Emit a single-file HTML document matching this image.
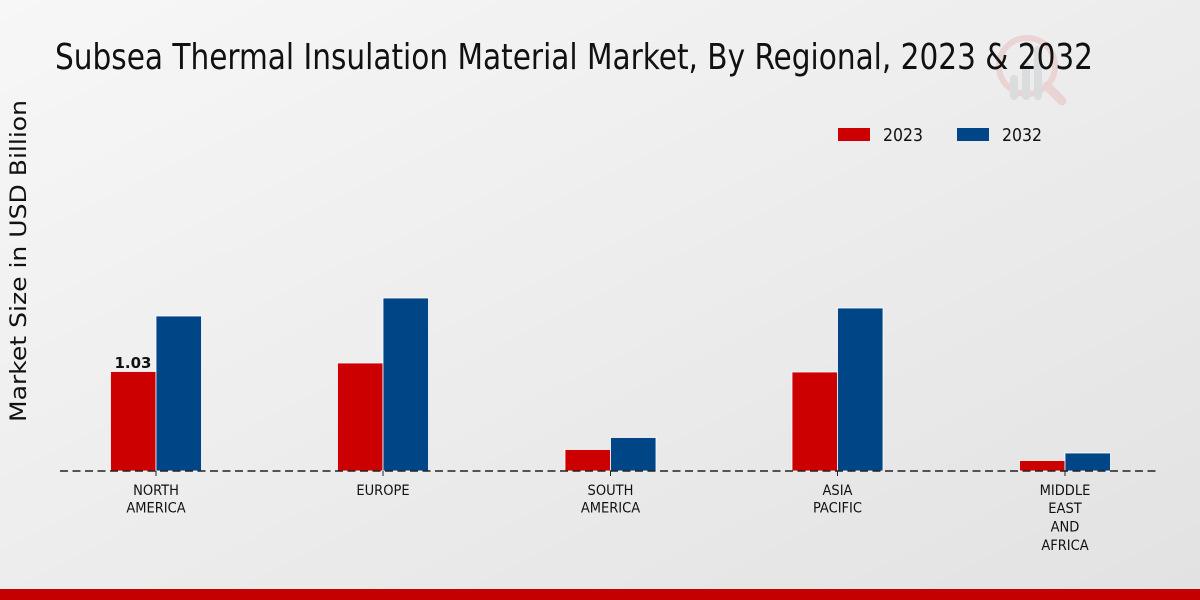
<!DOCTYPE html>
<html><head><meta charset="utf-8">
<style>
html,body{margin:0;padding:0;width:1200px;height:600px;overflow:hidden;}
svg{display:block;}
text{font-family:"DejaVu Sans Condensed","DejaVu Sans","Liberation Sans",sans-serif;}
</style></head>
<body>
<svg width="1200" height="600" viewBox="0 0 1200 600" xmlns="http://www.w3.org/2000/svg">
<defs>
<linearGradient id="bg" x1="0" y1="0" x2="1" y2="1">
<stop offset="0" stop-color="#f7f7f7"/>
<stop offset="1" stop-color="#e2e2e2"/>
</linearGradient>
</defs>
<rect width="1200" height="600" fill="url(#bg)"/>
<!-- logo -->
<g opacity="0.45">
<circle cx="1027" cy="66" r="28" fill="none" stroke="#e9b5b5" stroke-width="6"/>
<line x1="1047" y1="86" x2="1062" y2="101" stroke="#e9b5b5" stroke-width="9" stroke-linecap="round"/>
<rect x="1010" y="75" width="8" height="25" rx="4" fill="#c6c8cc"/>
<rect x="1022" y="62" width="8" height="38" rx="4" fill="#c6c8cc"/>
<rect x="1034" y="46" width="8" height="54" rx="4" fill="#c6c8cc"/>
</g>
<!-- title -->
<text x="55" y="69" font-size="36" fill="#111" textLength="1038" lengthAdjust="spacingAndGlyphs">Subsea Thermal Insulation Material Market, By Regional, 2023 &amp; 2032</text>
<!-- y label -->
<text transform="translate(26,261) rotate(-90)" text-anchor="middle" font-size="22" fill="#111" textLength="322" lengthAdjust="spacingAndGlyphs" style="font-family:'DejaVu Sans','Liberation Sans',sans-serif">Market Size in USD Billion</text>
<!-- legend -->
<rect x="838" y="128" width="32" height="13" fill="#cc0000"/>
<text x="883" y="141" font-size="18" fill="#111" textLength="40" lengthAdjust="spacingAndGlyphs">2023</text>
<rect x="957" y="128" width="32" height="13" fill="#004687"/>
<text x="1002" y="141" font-size="18" fill="#111" textLength="40" lengthAdjust="spacingAndGlyphs">2032</text>
<!-- bars -->
<g stroke="#ffffff" stroke-width="0.8">
<rect x="110.5" y="371.5" width="45.5" height="99.5" fill="#cc0000"/>
<rect x="156" y="316" width="45.5" height="155" fill="#004687"/>
<rect x="337.5" y="363" width="45.5" height="108" fill="#cc0000"/>
<rect x="383" y="298" width="45.5" height="173" fill="#004687"/>
<rect x="565" y="449.5" width="45.5" height="21.5" fill="#cc0000"/>
<rect x="610.5" y="437.5" width="45.5" height="33.5" fill="#004687"/>
<rect x="792" y="372" width="45.5" height="99" fill="#cc0000"/>
<rect x="837.5" y="308" width="45.5" height="163" fill="#004687"/>
<rect x="1019.5" y="460.5" width="45.5" height="10.5" fill="#cc0000"/>
<rect x="1065" y="453" width="45.5" height="18" fill="#004687"/>
</g>
<!-- baseline -->
<line x1="60" y1="471" x2="1160" y2="471" stroke="#222" stroke-width="1.4" stroke-dasharray="8,4.5"/>
<g stroke="#222" stroke-width="1">
<line x1="156" y1="471" x2="156" y2="476"/>
<line x1="383" y1="471" x2="383" y2="476"/>
<line x1="610.5" y1="471" x2="610.5" y2="476"/>
<line x1="837.5" y1="471" x2="837.5" y2="476"/>
<line x1="1065" y1="471" x2="1065" y2="476"/>
</g>
<!-- data label -->
<text x="133" y="368" text-anchor="middle" font-size="15" font-weight="bold" fill="#111" style="font-family:'DejaVu Sans','Liberation Sans',sans-serif">1.03</text>
<!-- tick labels -->
<g font-size="14.5" fill="#111" text-anchor="middle">
<text x="156" y="495">NORTH</text>
<text x="156" y="512.5">AMERICA</text>
<text x="383" y="495">EUROPE</text>
<text x="610.5" y="495">SOUTH</text>
<text x="610.5" y="512.5">AMERICA</text>
<text x="837.5" y="495">ASIA</text>
<text x="837.5" y="512.5">PACIFIC</text>
<text x="1065" y="495">MIDDLE</text>
<text x="1065" y="513">EAST</text>
<text x="1065" y="531.5">AND</text>
<text x="1065" y="550">AFRICA</text>
</g>
<!-- bottom band -->
<rect x="0" y="589" width="1200" height="11" fill="#c40000"/>
</svg>
</body></html>
